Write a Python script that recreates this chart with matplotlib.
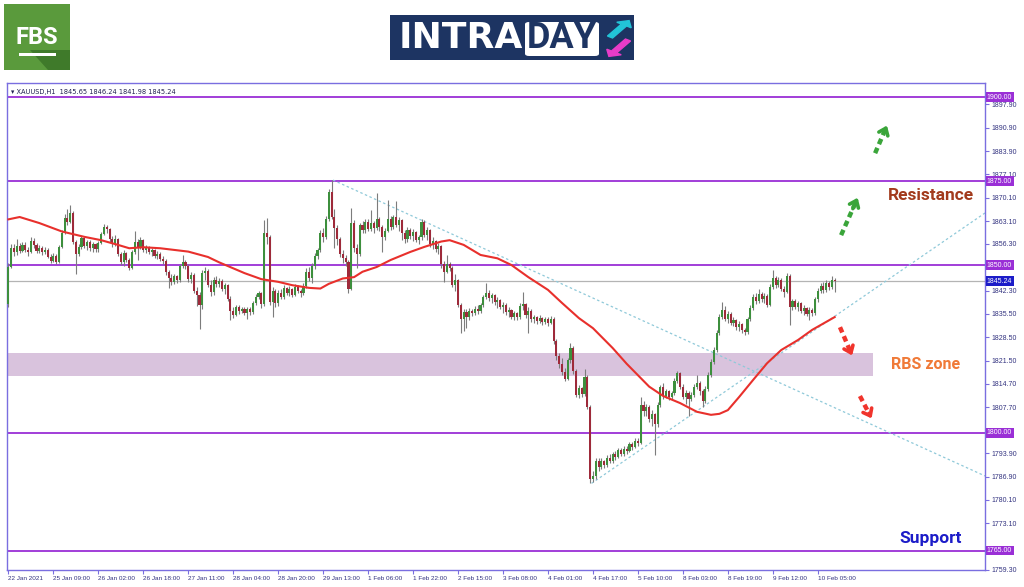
import matplotlib
matplotlib.use('Agg')
import matplotlib.pyplot as plt
import matplotlib.patches as patches
import numpy as np

# XAUUSD H1 candles (bar 0 = 22 Jan 16:00)
first_open = 1838.5
close = [1849.5,
    1855.0, 1853.8, 1855.6, 1854.2, 1856.0, 1854.6, 1853.9, 1857.2, 1856.1,
    1854.3, 1855.0, 1853.8, 1854.6, 1852.4, 1851.2, 1852.6, 1851.0,
    1855.5, 1859.6, 1864.0, 1862.8, 1865.4, 1857.0, 1853.2, 1855.4,
    1858.0, 1855.6, 1857.0, 1855.2, 1856.3, 1854.8, 1856.6,
    1859.2, 1861.4, 1860.6, 1857.8, 1856.4, 1857.8, 1853.4, 1850.8,
    1853.6, 1851.4, 1849.2, 1853.8, 1856.9, 1855.2, 1857.4, 1854.6,
    1855.2, 1853.9, 1854.4, 1852.8, 1853.4, 1851.9, 1851.2,
    1847.8, 1846.2, 1845.0, 1846.6, 1845.4, 1849.6, 1851.0, 1849.8,
    1845.8, 1847.0, 1842.4, 1841.2, 1838.0, 1847.6, 1848.3,
    1844.2, 1842.0, 1845.6, 1844.4, 1845.2, 1843.0, 1844.0, 1840.0,
    1836.4, 1835.2, 1837.4, 1836.2, 1836.8, 1835.8, 1836.9, 1835.9,
    1838.8, 1840.6, 1841.6, 1838.4, 1859.4, 1858.2, 1839.0,
    1842.2, 1838.6, 1841.8, 1840.6, 1843.2, 1841.6, 1842.8, 1841.2,
    1843.6, 1842.4, 1841.8, 1843.8, 1847.8, 1846.0, 1849.6, 1852.6, 1854.4,
    1859.6, 1858.4, 1863.8, 1871.6, 1864.4, 1861.0, 1857.8, 1853.4, 1852.2,
    1851.0, 1843.0, 1862.6, 1855.0, 1853.2, 1861.8,
    1860.4, 1862.8, 1860.8, 1862.4, 1861.0, 1863.6, 1861.2, 1858.4, 1860.2,
    1863.8, 1861.2, 1864.2, 1862.0, 1863.4, 1859.6, 1857.8,
    1860.4, 1858.6, 1859.8, 1857.6, 1858.2, 1862.8,
    1859.0, 1860.4, 1856.4, 1857.2, 1854.8, 1855.8, 1850.2, 1848.0,
    1850.4, 1849.2, 1844.2, 1845.4, 1838.2, 1833.8, 1836.0,
    1834.6, 1836.4, 1835.6, 1837.0, 1836.2, 1838.2, 1840.4, 1841.8, 1840.2,
    1841.0, 1839.0, 1839.6, 1837.6, 1838.2, 1836.0, 1836.6,
    1834.6, 1835.6, 1834.4, 1837.8, 1838.4, 1835.2, 1836.4, 1833.8,
    1834.4, 1833.2, 1834.2, 1833.0, 1833.8, 1832.8, 1834.0,
    1827.4, 1822.8, 1820.6, 1818.2, 1816.2, 1821.6, 1825.4, 1818.4, 1811.2,
    1813.4, 1811.6, 1816.6, 1807.8, 1786.4, 1787.2, 1791.8, 1789.8,
    1791.6, 1790.4, 1792.6, 1791.8, 1793.6, 1792.8, 1794.8, 1793.6, 1795.2,
    1794.6, 1796.6, 1795.8, 1797.6, 1797.0,
    1808.2, 1806.4, 1807.8, 1804.2, 1805.6, 1802.6, 1808.4, 1813.6,
    1811.0, 1812.4, 1810.6, 1811.8, 1815.6, 1817.8, 1813.8, 1810.8,
    1812.0, 1810.2, 1811.4, 1813.8, 1815.0, 1812.4, 1809.4,
    1813.2, 1817.4, 1821.2, 1824.8, 1829.8, 1834.6, 1836.6, 1834.0, 1835.4,
    1832.6, 1833.6, 1831.6, 1832.4, 1830.6, 1830.2, 1833.8, 1837.2,
    1840.6, 1839.2, 1841.4, 1839.8, 1840.8, 1838.2, 1843.6, 1846.2,
    1844.0, 1845.6, 1843.0, 1842.0, 1846.8, 1837.4,
    1839.2, 1837.6, 1838.6, 1836.4, 1837.2, 1835.4, 1836.6, 1835.6,
    1839.8, 1842.4, 1843.8, 1842.6, 1844.6, 1843.4, 1845.65, 1845.24]
high = [1850.5,
    1856.2, 1856.4, 1857.8, 1856.5, 1857.0, 1856.8, 1855.5, 1858.3, 1858.0,
    1856.5, 1855.9, 1855.6, 1855.4, 1855.0, 1853.3, 1853.5, 1853.2,
    1856.0, 1860.4, 1865.2, 1866.8, 1868.0, 1866.0, 1857.6, 1856.4,
    1858.6, 1858.4, 1857.6, 1857.4, 1856.9, 1856.6, 1857.2,
    1859.8, 1862.2, 1862.0, 1861.0, 1858.6, 1858.8, 1858.0, 1853.9,
    1854.6, 1854.0, 1852.0, 1854.4, 1860.0, 1857.8, 1858.4, 1857.9,
    1855.9, 1855.6, 1855.0, 1854.8, 1854.2, 1853.8, 1852.6,
    1851.8, 1848.6, 1847.2, 1847.4, 1847.0, 1850.3, 1853.0, 1851.6,
    1850.2, 1848.0, 1847.5, 1843.6, 1842.0, 1848.6, 1849.4,
    1848.8, 1845.6, 1846.4, 1846.8, 1846.0, 1845.8, 1844.8, 1844.4,
    1840.8, 1837.6, 1838.2, 1838.0, 1837.6, 1837.4, 1837.6, 1837.5,
    1839.4, 1841.4, 1842.4, 1842.0, 1863.4, 1864.0, 1858.8,
    1843.6, 1842.8, 1842.6, 1843.0, 1844.0, 1843.6, 1843.8, 1843.2,
    1844.4, 1844.2, 1843.0, 1844.6, 1849.0, 1849.4, 1850.6, 1853.6, 1855.2,
    1860.4, 1861.0, 1864.6, 1872.6, 1875.3, 1866.6, 1861.8, 1858.4, 1854.6,
    1853.0, 1851.6, 1867.0, 1863.4, 1856.2, 1862.6,
    1863.0, 1863.6, 1863.8, 1866.4, 1863.2, 1871.4, 1864.4, 1861.8, 1861.0,
    1869.3, 1864.6, 1865.0, 1869.0, 1864.2, 1863.8, 1860.4,
    1861.2, 1861.0, 1860.6, 1860.2, 1859.0, 1863.6,
    1863.4, 1861.2, 1860.8, 1858.2, 1857.6, 1856.6, 1856.0, 1851.2,
    1853.0, 1851.0, 1849.8, 1847.2, 1845.8, 1838.8, 1836.8,
    1836.8, 1837.2, 1837.0, 1837.8, 1838.0, 1838.8, 1841.2, 1844.6, 1842.6,
    1841.8, 1841.4, 1840.4, 1840.0, 1839.0, 1838.6, 1837.4,
    1837.0, 1836.4, 1836.0, 1838.6, 1842.0, 1838.8, 1837.4, 1836.8,
    1835.2, 1834.8, 1835.0, 1834.6, 1834.6, 1834.4, 1834.8,
    1834.4, 1828.0, 1823.8, 1822.4, 1819.4, 1822.4, 1826.8, 1825.8, 1819.0,
    1814.2, 1813.8, 1819.0, 1817.2, 1808.2, 1788.6, 1792.6, 1792.4,
    1792.4, 1792.0, 1793.4, 1793.6, 1794.4, 1794.6, 1795.6, 1795.4, 1796.2,
    1796.0, 1797.4, 1797.2, 1798.4, 1798.6,
    1810.7, 1809.6, 1808.6, 1808.2, 1806.8, 1806.0, 1809.2, 1814.4,
    1815.0, 1813.2, 1812.8, 1812.6, 1816.4, 1818.5, 1818.2, 1814.6,
    1812.8, 1812.4, 1812.2, 1814.6, 1817.3, 1815.6, 1813.2,
    1814.0, 1818.2, 1822.0, 1825.6, 1830.6, 1835.4, 1839.0, 1837.8, 1836.4,
    1836.0, 1834.4, 1834.0, 1833.2, 1832.8, 1831.4, 1834.6, 1838.0,
    1841.4, 1841.6, 1843.0, 1842.0, 1841.6, 1841.4, 1844.4, 1848.5,
    1846.8, 1846.4, 1846.2, 1843.8, 1847.6, 1847.2,
    1840.0, 1839.8, 1839.4, 1839.0, 1838.0, 1837.6, 1837.4, 1837.2,
    1840.6, 1843.2, 1844.8, 1845.0, 1845.4, 1845.2, 1846.6, 1846.24]
low = [1837.5,
    1849.0, 1852.6, 1853.0, 1853.5, 1853.8, 1853.9, 1852.8, 1853.5, 1855.0,
    1853.5, 1853.7, 1853.0, 1853.2, 1852.0, 1850.5, 1850.8, 1850.3,
    1850.6, 1855.0, 1859.2, 1861.9, 1862.4, 1856.2, 1847.2, 1852.6,
    1854.9, 1855.0, 1854.6, 1854.3, 1853.8, 1854.0, 1853.9,
    1856.2, 1858.8, 1859.5, 1857.0, 1855.4, 1855.8, 1852.8, 1850.0,
    1849.6, 1850.8, 1848.4, 1848.9, 1853.2, 1851.5, 1854.8, 1853.8,
    1853.6, 1853.2, 1852.8, 1852.1, 1851.9, 1851.2, 1850.4,
    1847.0, 1843.1, 1844.0, 1844.3, 1844.6, 1845.0, 1849.0, 1848.9,
    1845.0, 1844.6, 1841.6, 1837.8, 1831.0, 1836.8, 1845.6,
    1843.4, 1840.8, 1841.2, 1843.5, 1843.4, 1842.2, 1841.5, 1839.2,
    1833.6, 1834.2, 1834.8, 1835.4, 1835.6, 1835.0, 1834.0, 1835.2,
    1835.4, 1838.0, 1839.8, 1837.2, 1837.8, 1856.4, 1838.2,
    1834.6, 1837.4, 1837.8, 1839.8, 1840.0, 1841.0, 1840.9, 1840.4,
    1840.8, 1841.6, 1840.6, 1841.2, 1843.2, 1845.2, 1844.8, 1848.8, 1851.8,
    1853.8, 1857.0, 1857.8, 1863.0, 1863.6, 1855.2, 1856.0, 1852.4, 1850.6,
    1849.8, 1841.6, 1842.6, 1854.0, 1849.0, 1852.8,
    1859.4, 1859.6, 1860.0, 1860.2, 1859.6, 1860.4, 1860.0, 1854.0, 1857.6,
    1859.8, 1860.4, 1860.6, 1861.2, 1860.2, 1857.6, 1856.6,
    1857.0, 1857.8, 1857.2, 1856.8, 1856.2, 1857.4,
    1858.2, 1857.6, 1855.4, 1854.8, 1854.0, 1853.2, 1849.0, 1845.0,
    1847.6, 1848.2, 1843.6, 1842.2, 1837.4, 1829.8, 1830.4,
    1831.2, 1833.6, 1834.8, 1835.0, 1835.4, 1835.8, 1837.6, 1839.8, 1839.4,
    1838.6, 1838.2, 1837.2, 1836.8, 1835.6, 1835.2, 1834.4,
    1833.8, 1833.6, 1833.6, 1834.0, 1836.6, 1834.2, 1829.8, 1833.0,
    1832.8, 1832.4, 1832.6, 1832.2, 1832.4, 1831.8, 1832.4,
    1826.6, 1821.7, 1819.2, 1817.2, 1815.6, 1815.8, 1820.8, 1817.6, 1810.6,
    1810.4, 1810.6, 1811.0, 1807.0, 1785.0, 1785.4, 1786.4, 1788.8,
    1789.2, 1789.6, 1790.0, 1791.0, 1791.2, 1792.0, 1792.4, 1793.0, 1793.2,
    1793.8, 1794.2, 1795.0, 1795.4, 1796.2,
    1796.6, 1805.2, 1805.0, 1803.4, 1802.0, 1793.4, 1801.8, 1807.6,
    1810.2, 1810.4, 1809.8, 1810.0, 1811.2, 1814.8, 1813.0, 1810.0,
    1808.6, 1805.2, 1809.4, 1810.8, 1813.0, 1811.4, 1807.7,
    1808.8, 1812.6, 1816.8, 1820.6, 1824.2, 1829.2, 1833.8, 1833.2, 1832.6,
    1832.0, 1831.8, 1830.8, 1830.4, 1829.8, 1829.2, 1829.6, 1833.2,
    1836.6, 1838.4, 1838.8, 1839.0, 1838.6, 1837.6, 1837.8, 1843.0,
    1843.2, 1843.4, 1842.2, 1840.5, 1841.6, 1832.0,
    1836.6, 1836.8, 1836.2, 1835.6, 1835.2, 1834.8, 1833.6, 1834.8,
    1835.2, 1839.0, 1841.6, 1841.8, 1842.0, 1842.6, 1843.0, 1841.98]

# red moving average, sampled along the line (bar index, price)
ma_bar = [0, 4, 11, 19, 27, 33, 39, 43, 48, 54, 64, 71, 75, 84, 90, 96, 101,
          107, 111, 114, 119, 123, 126, 131, 136, 143, 148, 154, 157, 162,
          168, 174, 179, 185, 192, 197, 203, 208, 215, 220, 224, 228, 233,
          239, 245, 250, 253, 256, 260, 265, 270, 275, 281, 286, 294]
ma_val = [1863.6, 1864.3, 1862.5, 1860.0, 1858.4, 1857.4, 1856.0, 1855.0,
          1855.3, 1855.0, 1854.0, 1852.4, 1850.8, 1847.6, 1845.8, 1845.0,
          1844.0, 1843.2, 1843.0, 1844.4, 1846.0, 1846.4, 1848.0, 1849.4,
          1851.5, 1853.9, 1855.4, 1857.0, 1857.4, 1856.0, 1853.0, 1852.0,
          1850.0, 1846.4, 1842.6, 1838.7, 1834.2, 1831.2, 1825.3, 1820.6,
          1817.2, 1813.8, 1811.0, 1808.9, 1806.3, 1805.4, 1805.7, 1806.8,
          1810.7, 1815.8, 1820.8, 1824.7, 1827.7, 1830.7, 1834.5]

levels = [1900.0, 1875.0, 1850.0, 1800.0, 1765.0]
last_price = 1845.24
rbs_zone = (1817.0, 1823.8)
down_trend = [(115.5, 1875.3), (347.5, 1787.2)]
up_trend = [(207.5, 1785.0), (347.5, 1865.5)]

yticks = [1897.9, 1890.9, 1883.9, 1877.1, 1870.1, 1863.1, 1856.3, 1849.3,
          1842.3, 1835.5, 1828.5, 1821.5, 1814.7, 1807.7, 1800.7, 1793.9,
          1786.9, 1780.1, 1773.1, 1766.1, 1759.3]
# labels hidden behind the level boxes in the screenshot
hidden_ticks = [1849.3, 1800.7, 1766.1]
xtick_bars = list(range(0, 289, 16))
xtick_labels = ['22 Jan 2021', '25 Jan 09:00', '26 Jan 02:00', '26 Jan 18:00',
                '27 Jan 11:00', '28 Jan 04:00', '28 Jan 20:00', '29 Jan 13:00',
                '1 Feb 06:00', '1 Feb 22:00', '2 Feb 15:00', '3 Feb 08:00',
                '4 Feb 01:00', '4 Feb 17:00', '5 Feb 10:00', '8 Feb 03:00',
                '8 Feb 19:00', '9 Feb 12:00', '10 Feb 05:00']

# arrows (start bar, start price, end bar, end price)
green_arrows = [(296.3, 1858.9, 302.6, 1870.8), (308.4, 1883.3, 313.0, 1892.3)]
red_arrows = [(295.9, 1831.5, 300.6, 1822.3), (303.0, 1811.0, 307.6, 1803.6)]

W, H = 1024, 587
fig = plt.figure(figsize=(W / 100, H / 100), dpi=100)
fig.patch.set_facecolor('white')

ax = fig.add_axes([7 / W, 1 - 570 / H, (985 - 7) / W, (570 - 83) / H])
frame_col = '#7a6ee0'
level_col = '#9a2fd6'
for s in ax.spines.values():
    s.set_color(frame_col)
    s.set_linewidth(1.0)

c = np.array(close)
o = np.array([first_open] + close[:-1])
hi = np.array(high)
lo = np.array(low)
idx = np.arange(len(c))
up = c >= o

ax.add_patch(patches.Rectangle((-0.5, rbs_zone[0]), 308.1, rbs_zone[1] - rbs_zone[0],
                               facecolor='#d9c3dd', edgecolor='none', zorder=1))

for lv in levels:
    ax.axhline(lv, color=level_col, lw=1.3, zorder=2)
ax.axhline(last_price, color='#b4b4b4', lw=0.9, zorder=2)

for line in [down_trend, up_trend]:
    ax.plot([line[0][0], line[1][0]], [line[0][1], line[1][1]],
            color='#8fc9d9', lw=0.9, ls=(0, (2, 2)), zorder=2)

ax.vlines(idx, lo, hi, color='#7c7c7c', lw=0.8, zorder=3)
body_h = np.maximum(np.abs(c - o), 0.25)
ax.bar(idx[up], body_h[up], bottom=np.minimum(o, c)[up], width=0.75,
       color='#3d8f3d', edgecolor='none', zorder=4)
ax.bar(idx[~up], body_h[~up], bottom=np.minimum(o, c)[~up], width=0.75,
       color='#9e2a3a', edgecolor='none', zorder=4)

ax.plot(ma_bar, ma_val, color='#e8302c', lw=1.5, zorder=5)

for arrows, col in [(green_arrows, '#3aa53a'), (red_arrows, '#f0342c')]:
    for x0, y0, x1, y1 in arrows:
        f = 0.78
        ax.plot([x0, x0 + (x1 - x0) * f], [y0, y0 + (y1 - y0) * f], color=col,
                lw=3.2, ls=(0, (1.3, 0.9)), solid_capstyle='butt', zorder=6)
        ax.annotate('', xy=(x1, y1), xytext=(x0 + (x1 - x0) * 0.6, y0 + (y1 - y0) * 0.6),
                    arrowprops=dict(arrowstyle='->,head_length=0.45,head_width=0.35',
                                    color=col, lw=2.6), zorder=6)

ax.text(313, 1870.8, 'Resistance', color='#a23a1c', fontsize=12.5,
        fontweight='bold', family='Roboto', va='center', ha='left',
        clip_on=False, zorder=7)
ax.text(314, 1820.5, 'RBS zone', color='#f07a38', fontsize=11.5,
        fontweight='bold', family='Roboto', va='center', ha='left', zorder=7)
ax.text(317, 1768.5, 'Support', color='#1c1cc8', fontsize=12.5,
        fontweight='bold', family='Roboto', va='center', ha='left', zorder=7)

ax.set_xlim(-0.5, 347.5)
ax.set_ylim(1759.2, 1904.2)

ax.yaxis.tick_right()
ax.set_yticks(yticks)
ax.set_yticklabels(['' if v in hidden_ticks else '%.2f' % v for v in yticks],
                   family='Liberation Sans')
ax.set_xticks(xtick_bars)
ax.set_xticklabels(xtick_labels, ha='left', family='Liberation Sans')
ax.tick_params(axis='both', labelsize=5.0, colors=frame_col, labelcolor='#333380',
               length=3, width=0.8, pad=1.5)
ax.tick_params(axis='x', labelsize=4.6, pad=1.0)

for lv in levels:
    ax.text(1.002, lv, '%.2f' % lv, transform=ax.get_yaxis_transform(),
            fontsize=5.0, family='Liberation Sans', color='white', va='center',
            ha='left', zorder=8, clip_on=False,
            bbox=dict(boxstyle='square,pad=0.2', facecolor='#9a2fd6', edgecolor='none'))
ax.text(1.002, last_price, '%.2f' % last_price, transform=ax.get_yaxis_transform(),
        fontsize=5.0, family='Liberation Sans', color='white', va='center',
        ha='left', zorder=8, clip_on=False,
        bbox=dict(boxstyle='square,pad=0.2', facecolor='#1c1cc8', edgecolor='none'))

ax.text(0.004, 0.988, '\u25be XAUUSD,H1  1845.65 1846.24 1841.98 1845.24',
        transform=ax.transAxes, fontsize=4.8, color='#202050', va='top', ha='left')


def px(x, y):
    return x / W, 1 - y / H


# FBS logo
fig.patches.append(patches.Rectangle(px(4, 70), 66 / W, 66 / H, transform=fig.transFigure,
                                     facecolor='#5a9a3c', edgecolor='none'))
fig.patches.append(patches.Polygon([px(30, 50), px(70, 50), px(70, 70), px(48, 70)],
                                   closed=True, transform=fig.transFigure,
                                   facecolor='#3f7a2a', edgecolor='none'))
fig.text(*px(37, 37), 'FBS', color='white', fontsize=17, fontweight='bold',
         family='Roboto', ha='center', va='center')
fig.patches.append(patches.Rectangle(px(19, 56), 37 / W, 3 / H, transform=fig.transFigure,
                                     facecolor='white', edgecolor='none'))

# INTRADAY logo
fig.patches.append(patches.Rectangle(px(390, 60), 244 / W, 45 / H, transform=fig.transFigure,
                                     facecolor='#1d3462', edgecolor='none'))
fig.patches.append(patches.FancyBboxPatch(px(525, 56), 74 / W, 34 / H,
                                          boxstyle='round,pad=0,rounding_size=0.004',
                                          transform=fig.transFigure,
                                          facecolor='white', edgecolor='none'))
fig.text(*px(399, 38), 'INTRA', color='white', fontsize=26, fontweight='bold',
         family='DejaVu Sans', ha='left', va='center')
fig.text(*px(562, 38), 'DAY', color='#1d3462', fontsize=26, fontweight='bold',
         family='Roboto', ha='center', va='center')
fig.patches.append(patches.FancyArrow(*px(610, 37), 14 / W, 12 / H, width=0.006,
                                      head_width=0.017, head_length=0.009,
                                      transform=fig.transFigure, color='#22c4d8'))
fig.patches.append(patches.FancyArrow(*px(628, 40), -14 / W, -12 / H, width=0.006,
                                      head_width=0.017, head_length=0.009,
                                      transform=fig.transFigure, color='#e83cc8'))

fig.savefig('out.png', dpi=100, facecolor='white')
